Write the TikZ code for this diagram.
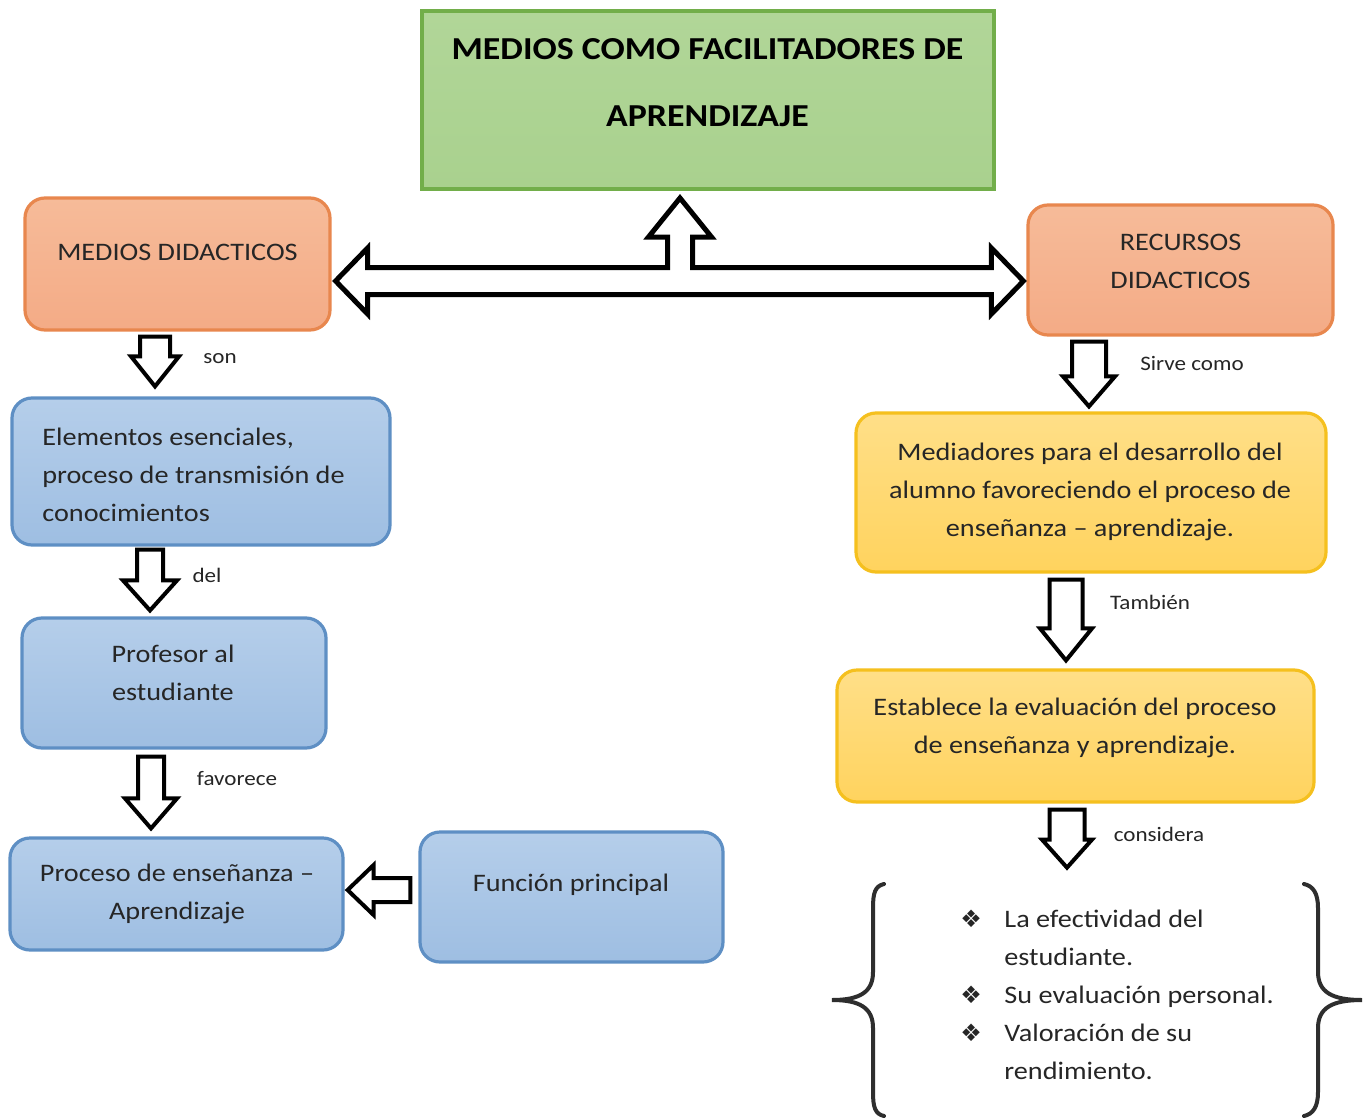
\documentclass[tikz,border=0pt]{standalone}
\usepackage{fontspec}
\setmainfont{Carlito}[FakeStretch=1.12]
\newfontfamily\symfont{DejaVu Sans}
\usetikzlibrary{calc}
\definecolor{greenfill}{HTML}{A9D18E}
\definecolor{greentop}{HTML}{B1D698}
\definecolor{greenline}{HTML}{72AE4A}
\definecolor{salmontop}{HTML}{F6BB99}
\definecolor{salmonbot}{HTML}{F4AB86}
\definecolor{salmonline}{HTML}{E8874E}
\definecolor{bluetop}{HTML}{B5CEEA}
\definecolor{bluebot}{HTML}{9EBEE2}
\definecolor{blueline}{HTML}{5E8FC4}
\definecolor{yeltop}{HTML}{FFDF88}
\definecolor{yelbot}{HTML}{FFD35E}
\definecolor{yelline}{HTML}{F5C01E}
\definecolor{textc}{HTML}{262626}
\definecolor{bracec}{HTML}{2E2E2E}
\tikzset{
  titlebox/.style={draw=greenline, line width=2pt, top color=greentop, bottom color=greenfill, minimum width=286pt, minimum height=89pt, inner sep=0pt},
  salmonbox/.style={draw=salmonline, line width=1.6pt, rounded corners=10pt, top color=salmontop, bottom color=salmonbot, inner sep=0pt},
  bluebox/.style={draw=blueline, line width=1.6pt, rounded corners=10pt, top color=bluetop, bottom color=bluebot, inner sep=0pt},
  yelbox/.style={draw=yelline, line width=1.6pt, rounded corners=10pt, top color=yeltop, bottom color=yelbot, inner sep=0pt},
  txt/.style={font=\fontsize{12.6}{19}\selectfont, text=textc, align=center, inner sep=0pt},
  titletxt/.style={font=\fontsize{16}{33.5}\selectfont\bfseries, text=black, align=center, inner sep=0pt},
  lbl/.style={font=\fontsize{10.3}{12}\selectfont, text=textc, inner sep=0pt},
  blockarrow/.style={draw=black, fill=white, line width=2pt, line join=miter},
  bigarrow/.style={draw=black, fill=white, line width=2.5pt, line join=miter},
  bracestyle/.style={draw=bracec, line width=2pt, line cap=round}
}
% down block arrow: #1 start (y), #2 tip, #3 shaft half, #4 head half, #5 head length (px)
\newcommand\blockdown[5]{%
  \draw[blockarrow] ($(#2|-#1)+(-#3,0)$) -- ($(#2|-#1)+(#3,0)$) -- ($(#2)+(#3,-#5)$) -- ($(#2)+(#4,-#5)$) -- (#2) -- ($(#2)+(-#4,-#5)$) -- ($(#2)+(-#3,-#5)$) -- cycle;}
% left block arrow: #1 start (x), #2 tip, #3 shaft half, #4 head half, #5 head length (px)
\newcommand\blockleft[5]{%
  \draw[blockarrow] ($(#1|-#2)+(0,-#3)$) -- ($(#1|-#2)+(0,#3)$) -- ($(#2)+(#5,#3)$) -- ($(#2)+(#5,#4)$) -- (#2) -- ($(#2)+(#5,-#4)$) -- ($(#2)+(#5,-#3)$) -- cycle;}
\newcommand\bul{\makebox[22pt][l]{\symfont\fontsize{12}{19}\selectfont ❖}}
\begin{document}
\begin{tikzpicture}[x=0.5pt, y=-0.5pt]
\path[use as bounding box, fill=white] (0,0) rectangle (1371,1119);

% boxes
\node[titlebox] (title) at (707.5,100) {};
\node[salmonbox, minimum width=152.5pt, minimum height=66pt] (md) at (177.5,264) {};
\node[salmonbox, minimum width=152.5pt, minimum height=65pt] (rd) at (1180.5,270) {};
\node[bluebox, minimum width=189pt, minimum height=73.5pt] (el) at (201,471.5) {};
\node[bluebox, minimum width=152pt, minimum height=65pt] (pr) at (174,683) {};
\node[bluebox, minimum width=166.5pt, minimum height=56pt] (pe) at (176.5,894) {};
\node[bluebox, minimum width=151.5pt, minimum height=65pt] (fp) at (571.5,897) {};
\node[yelbox, minimum width=235pt, minimum height=79.5pt] (me) at (1091,492.5) {};
\node[yelbox, minimum width=238.5pt, minimum height=66pt] (es) at (1075.5,736) {};

% texts
\node[titletxt] (titleT) at (707.5,83) {MEDIOS COMO FACILITADORES DE\\APRENDIZAJE};
\node[txt] (mdT) at (177.5,252) {MEDIOS DIDACTICOS};
\node[txt] (rdT) at (1180.5,261) {RECURSOS\\DIDACTICOS};
\node[txt, align=left, anchor=west] (elT) at (42,475) {Elementos esenciales,\\proceso de transmisión de\\conocimientos};
\node[txt] (prT) at (173,673) {Profesor al\\estudiante};
\node[txt] (peT) at (177,894) {Proceso de enseñanza –\\Aprendizaje};
\node[txt] (fpT) at (571,885) {Función principal};
\node[txt] (meT) at (1090,492) {Mediadores para el desarrollo del\\alumno favoreciendo el proceso de\\enseñanza – aprendizaje.};
\node[txt] (esT) at (1075,728) {Establece la evaluación del proceso\\de enseñanza y aprendizaje.};

% big double arrow with branch up
\coordinate (L) at ($(md.east |- 0,281)+(4,0)$);
\coordinate (R) at ($(rd.west |- 0,281)+(-3,0)$);
\coordinate (T) at ($(title.south)+(-27.5,7)$);
\draw[bigarrow] let \p1=(L), \p2=(R), \p3=(T) in
  (\x1,\y1) -- (\x1+16pt,\y1+16.5pt) -- (\x1+16pt,\y1+6.75pt)
  -- (\x3-6.25pt,\y1+6.75pt) -- (\x3-6.25pt,\y3-19.5pt) -- (\x3-15.75pt,\y3-19.5pt)
  -- (\x3,\y3) -- (\x3+15.75pt,\y3-19.5pt) -- (\x3+6.25pt,\y3-19.5pt)
  -- (\x3+6.25pt,\y1+6.75pt) -- (\x2-16pt,\y1+6.75pt) -- (\x2-16pt,\y1+16.5pt)
  -- (\x2,\y1) -- (\x2-16pt,\y1-16.5pt) -- (\x2-16pt,\y1-6.75pt)
  -- (\x1+16pt,\y1-6.75pt) -- (\x1+16pt,\y1-16.5pt) -- cycle;

% down arrows, left column
\coordinate (a1s) at ($(md.south)+(0,5)$);
\coordinate (a1t) at ($(el.north)+(-46,-10)$);
\blockdown{a1s}{a1t}{15}{24}{30}
\coordinate (a2s) at ($(el.south)+(0,3)$);
\coordinate (a2t) at ($(pr.north)+(-24,-6)$);
\blockdown{a2s}{a2t}{13}{27}{30}
\coordinate (a3s) at ($(pr.south)+(0,7)$);
\coordinate (a3t) at ($(pe.north)+(-25.5,-8)$);
\blockdown{a3s}{a3t}{13}{26}{30}
% left arrow
\coordinate (a7s) at ($(fp.west)+(-8,0)$);
\coordinate (a7t) at ($(pe.east)+(3,-4)$);
\blockleft{a7s}{a7t}{12}{25}{26}
% right column
\coordinate (a4s) at ($(rd.south)+(0,5)$);
\coordinate (a4t) at ($(me.north)+(-2,-5)$);
\blockdown{a4s}{a4t}{17}{26}{30}
\coordinate (a5s) at ($(me.south)+(0,6)$);
\coordinate (a5t) at ($(es.north)+(-9.5,-8)$);
\blockdown{a5s}{a5t}{16.5}{26}{32}
\coordinate (a6s) at ($(es.south)+(0,6)$);
\coordinate (a6t) at ($(es.south)+(-8.5,64)$);
\blockdown{a6s}{a6t}{17.5}{25}{28}

% labels
\node[lbl] (l1) at (220,359) {son};
\node[lbl] (l2) at (207,575) {del};
\node[lbl] (l3) at (237,779) {favorece};
\node[lbl] (l4) at (1192,363) {Sirve como};
\node[lbl] (l5) at (1150,602) {También};
\node[lbl] (l6) at (1159,834) {considera};

% braces
\draw[bracestyle] (884,884) .. controls (875,886) and (873,893) .. (873,908)
  -- (873,972) .. controls (873,992) and (860,1000) .. (832,1000)
  .. controls (860,1000) and (873,1008) .. (873,1028)
  -- (873,1092) .. controls (873,1107) and (875,1114) .. (884,1116);
\draw[bracestyle] (1304,884) .. controls (1313,886) and (1318,893) .. (1318,908)
  -- (1318,972) .. controls (1318,992) and (1332,1000) .. (1362,1000)
  .. controls (1332,1000) and (1318,1008) .. (1318,1028)
  -- (1318,1092) .. controls (1318,1107) and (1313,1114) .. (1304,1116);

% list
\node[txt, align=left, anchor=west] (list) at (960,995) {%
  \bul La efectividad del\\
  \hspace*{22pt}estudiante.\\
  \bul Su evaluación personal.\\
  \bul Valoración de su\\
  \hspace*{22pt}rendimiento.};
\end{tikzpicture}
\end{document}
